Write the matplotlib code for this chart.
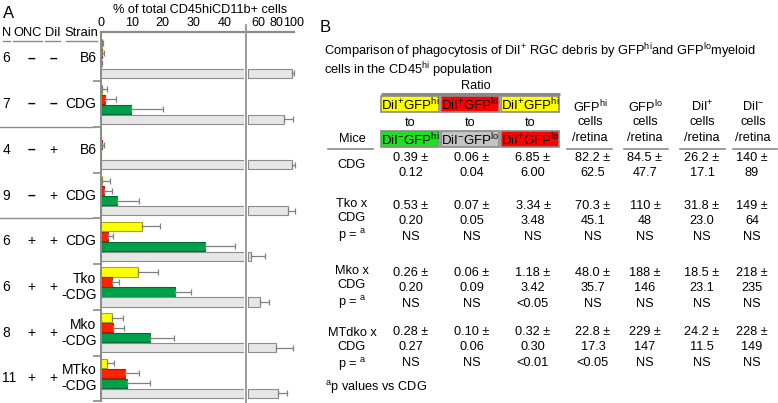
import matplotlib
matplotlib.use("Agg")
import matplotlib.pyplot as plt
import matplotlib.transforms as mtransforms
import numpy as np
from matplotlib.patches import Rectangle

plt.rcParams["font.family"] = ["Liberation Sans", "DejaVu Sans"]
plt.rcParams["mathtext.fontset"] = "custom"
plt.rcParams["mathtext.rm"] = "Liberation Sans"
plt.rcParams["mathtext.it"] = "Liberation Sans:italic"
plt.rcParams["mathtext.bf"] = "Liberation Sans:bold"

# ---------------- panel A data (% of total CD45hiCD11b+ cells) ----------------
n_mice = ["6", "7", "4", "9", "6", "6", "8", "11"]
onc = ["-", "-", "-", "-", "+", "+", "+", "+"]
dii = ["-", "-", "+", "+", "+", "+", "+", "+"]
strain = ["B6", "CDG", "B6", "CDG", "CDG", "Tko\n-CDG", "Mko\n-CDG", "MTko\n-CDG"]

yellow = [0.3, 0.5, 0.05, 0.5, 13.4, 11.9, 3.6, 2.1]
yellow_err = [0.5, 1.4, 0.0, 2.6, 5.7, 6.7, 3.5, 2.3]
red = [0.5, 1.3, 0.4, 1.2, 2.5, 3.5, 3.9, 7.7]
red_err = [0.6, 3.5, 0.6, 2.5, 1.6, 2.5, 3.7, 4.8]
green = [0.2, 9.8, 0.05, 5.3, 33.6, 24.0, 16.0, 8.4]
green_err = [0.1, 10.2, 0.0, 7.2, 9.8, 5.0, 7.5, 7.6]
gray = [98.0, 88.4, 97.5, 93.0, 51.0, 61.1, 79.3, 82.3]
gray_err = [1.5, 10.6, 3.7, 8.6, 16.2, 10.9, 19.3, 9.5]

left_ticks = [0, 10, 20, 30, 40]
right_ticks = [60, 80, 100]

# ---------------- panel B data (table) ----------------
mice = ["CDG", "Tko x\nCDG\np = $^{\\rm a}$", "Mko x\nCDG\np = $^{\\rm a}$",
        "MTdko x\nCDG\np = $^{\\rm a}$"]
ratio_top = ["DiI$^{+}$GFP$^{\\rm hi}$", "DiI$^{+}$GFP$^{\\rm lo}$", "DiI$^{+}$GFP$^{\\rm hi}$"]
ratio_bot = ["DiI$^{-}$GFP$^{\\rm hi}$", "DiI$^{-}$GFP$^{\\rm lo}$", "DiI$^{+}$GFP$^{\\rm lo}$"]
count_heads = ["GFP$^{\\rm hi}$", "GFP$^{\\rm lo}$", "DiI$^{+}$", "DiI$^{-}$"]
means = [["0.39", "0.06", "6.85", "82.2", "84.5", "26.2", "140"],
         ["0.53", "0.07", "3.34", "70.3", "110", "31.8", "149"],
         ["0.26", "0.06", "1.18", "48.0", "188", "18.5", "218"],
         ["0.28", "0.10", "0.32", "22.8", "229", "24.2", "228"]]
sds = [["0.12", "0.04", "6.00", "62.5", "47.7", "17.1", "89"],
       ["0.20", "0.05", "3.48", "45.1", "48", "23.0", "64"],
       ["0.20", "0.09", "3.42", "35.7", "146", "23.1", "235"],
       ["0.27", "0.06", "0.30", "17.3", "147", "11.5", "149"]]
pvals = [None,
         ["NS", "NS", "NS", "NS", "NS", "NS", "NS"],
         ["NS", "NS", "<0.05", "NS", "NS", "NS", "NS"],
         ["NS", "NS", "<0.01", "<0.05", "NS", "NS", "NS"]]

# colors
C_YEL, C_RED, C_GRN, C_GRY = "#ffff00", "#ff2200", "#00a04a", "#e6e6e6"
E_YEL, E_RED, E_GRN, E_GRY = "#a8a800", "#b01800", "#006a30", "#8c8c8c"
C_ERR = "#808080"
C_LINE = "#8a8a8a"
T_YEL, T_RED, T_GRN, T_GRY = "#ffff00", "#ff0000", "#1ee01e", "#c4c4c4"

W, H = 778, 403
fig = plt.figure(figsize=(W / 100, H / 100), dpi=100)

# pixel overlay for free text / table
ov = fig.add_axes([0, 0, 1, 1])
ov.set_xlim(0, W)
ov.set_ylim(H, 0)
ov.axis("off")


def box(px0, py0, px1, py1):
    return [px0 / W, 1 - py1 / H, (px1 - px0) / W, (py1 - py0) / H]


L_MAX, R_MIN, R_MAX = 46.2, 47.5, 100.0
axL = fig.add_axes(box(100.7, 32.5, 244, 401))
axR = fig.add_axes(box(247.7, 32.5, 294, 401))

pitch = 4.57
yy = 1.1 + pitch * np.arange(len(n_mice))
series = [(yellow, yellow_err, C_YEL, E_YEL), (red, red_err, C_RED, E_RED),
          (green, green_err, C_GRN, E_GRN), (gray, gray_err, C_GRY, E_GRY)]

for k, (vals, errs, fc, ec) in enumerate(series):
    vals = np.asarray(vals)
    errs = np.asarray(errs)
    y = yy + k
    axL.barh(y, np.minimum(vals, L_MAX - 0.15), height=0.92, color=fc,
             edgecolor=ec, lw=0.8)
    over = vals > R_MIN
    if over.any():
        axR.barh(y[over], vals[over] - R_MIN - 0.1, left=R_MIN + 0.1,
                 height=0.92, color=fc, edgecolor=ec, lw=0.8)
    for ax, m in ((axL, (vals <= L_MAX) & (errs > 0)),
                  (axR, (vals > L_MAX) & (errs > 0))):
        if not m.any():
            continue
        eb = ax.errorbar(vals[m], y[m], xerr=[np.zeros(m.sum()), errs[m]],
                         fmt="none", ecolor=C_ERR, elinewidth=0.9,
                         capsize=2.2, capthick=0.9)
        for a in eb.get_children():
            a.set_clip_on(False)

bounds = yy[:-1] + 3 + (pitch - 3) / 2
ylim = (36.85, 0)
for ax, lo, hi, ticks in ((axL, 0, L_MAX, left_ticks),
                          (axR, R_MIN, R_MAX, right_ticks)):
    ax.set_xlim(lo, hi)
    ax.set_ylim(*ylim)
    ax.set_facecolor("none")
    for s in ("bottom", "right", "left"):
        ax.spines[s].set_visible(False)
    ax.spines["top"].set_color(C_LINE)
    ax.spines["top"].set_linewidth(1.6)
    ax.xaxis.tick_top()
    ax.set_xticks(ticks)
    ax.tick_params(axis="x", length=0, pad=2.5, labelsize=9)
    ax.set_yticks([])

axL.spines["left"].set_visible(True)
axL.spines["left"].set_color(C_LINE)
axL.spines["left"].set_linewidth(1.4)
axL.set_yticks(list(bounds) + [ylim[0]])
axL.tick_params(axis="y", length=6, color=C_LINE, width=1.2, labelleft=False)

# break line
ov.plot([246, 246], [25, 403], color=C_LINE, lw=1.2)

ov.text(200, 10, "% of total CD45hiCD11b+ cells", ha="center", va="center",
        fontsize=9.2)
ov.text(3, 13, "A", ha="left", va="center", fontsize=12)

# row labels of panel A
for x0, x1, label, xc in ((3, 10, "N", 6.5), (13, 42, "ONC", 27.5),
                          (45, 60, "DiI", 52.5), (66, 97, "Strain", 81.5)):
    ov.text(xc, 33, label, ha="center", va="center", fontsize=9.3)
    ov.plot([x0, x1], [40.5, 40.5], color=C_LINE, lw=1)

blend = mtransforms.blended_transform_factory(ov.transData, axL.transData)
for i in range(len(n_mice)):
    yc = yy[i] + 1.5
    ov.text(2.5, yc, n_mice[i], transform=blend, ha="left", va="center",
            fontsize=10)
    for xc, sign in ((31.5, onc[i]), (53, dii[i])):
        if sign == "-":
            ov.text(xc, yc, "\u2013", transform=blend, ha="center",
                    va="center", fontsize=10, fontweight="bold")
        else:
            ov.text(xc, yc, "+", transform=blend, ha="center", va="center",
                    fontsize=10)
    ov.text(96.5, yc, strain[i], transform=blend, ha="right", va="center",
            fontsize=10, linespacing=1.2)
for b in (bounds[1], bounds[3]):
    ov.plot([0, 93], [b, b], transform=blend, color=C_LINE, lw=1)

# ---------------- panel B ----------------
FS = 9.2
ov.text(320, 28, "B", ha="left", va="center", fontsize=12)
ov.text(324, 51.5, "Comparison of phagocytosis of DiI$^{+}$ RGC debris by "
        "GFP$^{\\rm hi}$and GFP$^{\\rm lo}$myeloid",
        ha="left", va="center", fontsize=9.3)
ov.text(324, 70, "cells in the CD45$^{\\rm hi}$ population", ha="left",
        va="center", fontsize=9.3)
ov.text(476, 86, "Ratio", ha="center", va="center", fontsize=FS)
ov.plot([381, 560], [93.5, 93.5], color=C_LINE, lw=2.2,
        solid_capstyle="butt")

box_x = [(381, 439), (441, 499), (501, 559)]
top_fc = [T_YEL, T_RED, T_YEL]
bot_fc = [T_GRN, T_GRY, T_RED]
for j, (x0, x1) in enumerate(box_x):
    xc = (x0 + x1) / 2
    for (y0, y1), fc, txt in (((96, 112), top_fc[j], ratio_top[j]),
                              ((131, 147), bot_fc[j], ratio_bot[j])):
        ov.add_patch(Rectangle((x0, y0), x1 - x0, y1 - y0, facecolor=fc,
                               edgecolor=C_LINE, lw=1.2))
        ov.text(xc, (y0 + y1) / 2 + 0.5, txt, ha="center", va="center",
                fontsize=9.6)
    ov.text(xc, 123, "to", ha="center", va="center", fontsize=FS)

head_x = [590, 645, 702, 753]
head_line = [(567, 612), (624, 668), (680, 725), (733, 777)]
for xc, (x0, x1), txt in zip(head_x, head_line, count_heads):
    ov.text(xc, 107, txt, ha="center", va="center", fontsize=FS)
    ov.text(xc, 122, "cells", ha="center", va="center", fontsize=FS)
    ov.text(xc, 138, "/retina", ha="center", va="center", fontsize=FS)
    ov.plot([x0, x1], [148.5, 148.5], color=C_LINE, lw=1.2)

ov.text(352, 139, "Mice", ha="center", va="center", fontsize=FS)
ov.plot([328, 373], [148.5, 148.5], color=C_LINE, lw=1.2)

col_x = [411, 472, 533, 593, 645, 702, 752]
row_y = [(158, 173, None), (206, 221, 237), (273, 288, 304), (332, 347, 363)]
mice_y = [165, 221, 288, 350]
for r in range(len(mice)):
    ya, yb, yp = row_y[r]
    for c, xc in enumerate(col_x):
        ov.text(xc, ya, means[r][c] + " \u00b1", ha="center", va="center",
                fontsize=FS)
        ov.text(xc, yb, sds[r][c], ha="center", va="center", fontsize=FS)
        if pvals[r] is not None:
            ov.text(xc, yp, pvals[r][c], ha="center", va="center",
                    fontsize=FS)
    ov.text(352, mice_y[r], mice[r], ha="center", va="center", fontsize=FS,
            linespacing=1.25)

ov.text(325, 388, "$^{\\rm a}$p values vs CDG", ha="left", va="center",
        fontsize=FS)

fig.savefig("out.png", dpi=100)
